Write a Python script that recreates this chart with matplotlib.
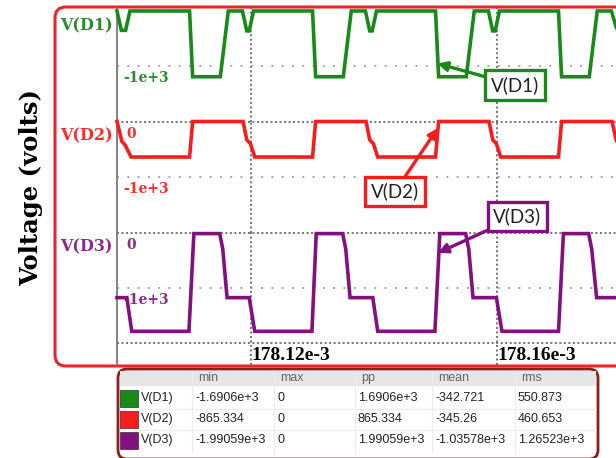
import matplotlib.pyplot as plt
from matplotlib.patches import FancyBboxPatch, Rectangle

# time in microseconds after 178.10e-3 s, voltages in volts
t_d1 = [-1.8, -1.1, -0.4, 0.3, 10.0, 10.5, 15.0, 16.3, 18.6, 19.3, 19.7, 20.4,
        30.0, 30.5, 35.0, 36.3, 38.6, 39.3, 39.7, 40.4, 50.0, 50.5, 55.0, 56.3,
        58.6, 59.3, 59.7, 60.4, 70.0, 70.5, 75.0, 76.3, 78.6, 79.4]
v_d1 = [0, -350, -350, 0, 0, -1190, -1190, 0, 0, -360, -360, 0,
        0, -1190, -1190, 0, 0, -360, -360, 0, 0, -1190, -1190, 0,
        0, -360, -360, 0, 0, -1190, -1190, 0, 0, -300]

t_d2 = [-1.8, -1.0, -0.5, 0.5, 10.0, 10.5, 18.7, 19.3, 19.9, 20.6, 30.0, 30.5,
        38.7, 39.3, 39.9, 40.6, 50.0, 50.5, 58.7, 59.3, 59.9, 60.6, 70.0, 70.5,
        78.7, 79.4]
v_d2 = [0, -360, -420, -640, -640, 0, 0, -330, -400, -640, -640, 0,
        0, -330, -400, -640, -640, 0, 0, -330, -400, -640, -640, 0,
        0, -340]

t_d3 = [-1.8, -0.2, 0.6, 9.9, 10.7, 14.9, 15.4, 16.1, 19.7, 20.6, 29.9, 30.6,
        34.9, 35.4, 36.1, 39.8, 40.6, 49.9, 50.7, 54.9, 55.4, 56.1, 59.9, 60.8,
        70.0, 70.8, 74.9, 75.4, 76.2, 79.4]
v_d3 = [-1180, -1180, -1790, -1790, -20, -20, -300, -1180, -1180, -1790, -1790, -20,
        -20, -300, -1180, -1180, -1790, -1790, -20, -20, -300, -1180, -1180, -1790,
        -1790, -20, -20, -300, -1180, -1180]

names = ['V(D1)', 'V(D2)', 'V(D3)']
colors = ['#188a18', '#f81c1c', '#82107f']
text_colors = ['#2a8c2a', '#ff2a2a', '#8c2a8c']

x_ticks = [20, 60]
x_tick_labels = ['178.12e-3', '178.16e-3']
y_marks = [0, -1000]
y_mark_labels = ['0', '-1e+3']

# where each callout points to (time, volts)
tip_t = [50.3, 50.4, 50.4]
tip_v = [-950, -117, -371]

table_cols = ['min', 'max', 'pp', 'mean', 'rms']
col_min = ['-1.6906e+3', '-865.334', '-1.99059e+3']
col_max = ['0', '0', '0']
col_pp = ['1.6906e+3', '865.334', '1.99059e+3']
col_mean = ['-342.721', '-345.26', '-1.03578e+3']
col_rms = ['550.873', '460.653', '1.26523e+3']

W, H = 616, 458
fig = plt.figure(figsize=(W / 100, H / 100), dpi=100)


def px_rect(x0, y0, x1, y1):
    return [x0 / W, 1 - y1 / H, (x1 - x0) / W, (y1 - y0) / H]


# background layer in pixel units: frame, y label, stats table
bg = fig.add_axes([0, 0, 1, 1])
bg.set_xlim(0, W)
bg.set_ylim(H, 0)
bg.axis('off')
bg.add_patch(FancyBboxPatch((55, 7), 640, 359, boxstyle='round,pad=0,rounding_size=11',
                            fc='none', ec='#e8262a', lw=2.2))
bg.text(31, 188, 'Voltage (volts)', rotation=90, ha='center', va='center',
        family='DejaVu Serif', weight='bold', fontsize=17.5)

panels = [fig.add_axes(px_rect(117, 8, W, 121.5)),
          fig.add_axes(px_rect(117, 121.5, W, 232.5)),
          fig.add_axes(px_rect(117, 232.5, W, 365))]
ylims = [(-2000, 54), (-2000, 0), (-2400, 0)]
traces = [(t_d1, v_d1), (t_d2, v_d2), (t_d3, v_d3)]

dense = dict(color='#6a6a6a', lw=1.3, ls=(0, (1.1, 1.4)), zorder=1, clip_on=False)
sparse = dict(color='#a0a0a0', lw=1.3, ls=(0, (1.1, 4.6)), zorder=1)

for i, ax in enumerate(panels):
    ax.set_facecolor('none')
    ax.set_xlim(-1.8, 79.35)
    ax.set_ylim(*ylims[i])
    for s in ['top', 'right', 'bottom']:
        ax.spines[s].set_visible(False)
    ax.spines['left'].set_color('#7a7a7a')
    ax.spines['left'].set_linewidth(1.3)
    ax.set_yticks([])
    ax.set_xticks([])
    for t in x_ticks:
        ax.axvline(t, **dense)
    if i > 0:
        ax.axhline(0, **dense)
    ax.axhline(-1000, **sparse)
    for val, lbl in zip(y_marks, y_mark_labels):
        if i == 0 and val == 0:
            continue  # hidden under the first V(D1) notch
        ax.annotate(lbl, xy=(0, val), xycoords=('axes fraction', 'data'),
                    xytext=(4.5 if lbl != '0' else 7, -8.7), textcoords='offset points',
                    ha='left', va='center', color=text_colors[i],
                    family='DejaVu Serif', weight='bold', fontsize=10, zorder=2)
    ax.annotate(names[i], xy=(0, 0), xycoords=('axes fraction', 'data'),
                xytext=(-3, -10.4), textcoords='offset points', ha='right', va='center',
                color=text_colors[i], family='DejaVu Serif', weight='bold',
                fontsize=11.5, annotation_clip=False)
    t, v = traces[i]
    ax.plot(t, v, color=colors[i], lw=2.6, zorder=3, clip_on=False,
            solid_joinstyle='miter')

ax3 = panels[2]
ax3.axhline(-2000, **dense)
ax3.set_xticks(x_ticks, x_tick_labels)
ax3.tick_params(axis='x', length=0, pad=-12.8)
for lbl in ax3.get_xticklabels():
    lbl.set_ha('left')
    lbl.set_family('Liberation Serif')
    lbl.set_weight('bold')
    lbl.set_fontsize(14)

# callout boxes (box centre in panel data coords)
box_pos = [(62.9, -1340), (43.4, -1261), (63.3, 290)]
for i, ax in enumerate(panels):
    ax.annotate(names[i], xy=(tip_t[i], tip_v[i]), xytext=box_pos[i],
                textcoords='data', ha='center', va='center', fontsize=13.5,
                family='Lato', color='#222222', annotation_clip=False, zorder=6,
                bbox=dict(boxstyle='square,pad=0.3', fc='white', ec=colors[i], lw=2.4),
                arrowprops=dict(arrowstyle='-|>', color=colors[i], lw=2.4,
                                mutation_scale=14, shrinkA=0, shrinkB=0))

# stats table
bg.add_patch(FancyBboxPatch((118, 369), 480, 90, boxstyle='round,pad=0,rounding_size=9',
                            fc='white', ec='#8e1c1c', lw=2.0, zorder=1))
bg.add_patch(Rectangle((120, 371), 476, 15, fc='#e6e6e6', ec='none', zorder=2))
col_x = [195, 277, 358, 435, 518]
for x in col_x:
    bg.plot([x - 3, x - 3], [371, 452], color='#ececec', lw=0.8, zorder=2)
for yl in [408.5, 430]:
    bg.plot([120, 596], [yl, yl], color='#ececec', lw=0.8, zorder=2)
for x, c in zip(col_x, table_cols):
    bg.text(x + 3, 378, c, ha='left', va='center', fontsize=9,
            family='Liberation Sans', color='#666666', zorder=3)
rows = list(zip(col_min, col_max, col_pp, col_mean, col_rms))
for r, (name, vals) in enumerate(zip(names, rows)):
    yc = 398 + r * 21
    bg.add_patch(Rectangle((120, yc - 8.5), 18, 17, fc=colors[r], ec='#444444',
                           lw=0.6, zorder=3))
    bg.text(141, yc, name, ha='left', va='center', fontsize=9,
            family='Liberation Sans', color='#222222', zorder=3)
    for x, s in zip(col_x, vals):
        bg.text(x, yc, s, ha='left', va='center', fontsize=9,
                family='Liberation Sans', color='#222222', zorder=3)

fig.savefig('out.png', dpi=100)
